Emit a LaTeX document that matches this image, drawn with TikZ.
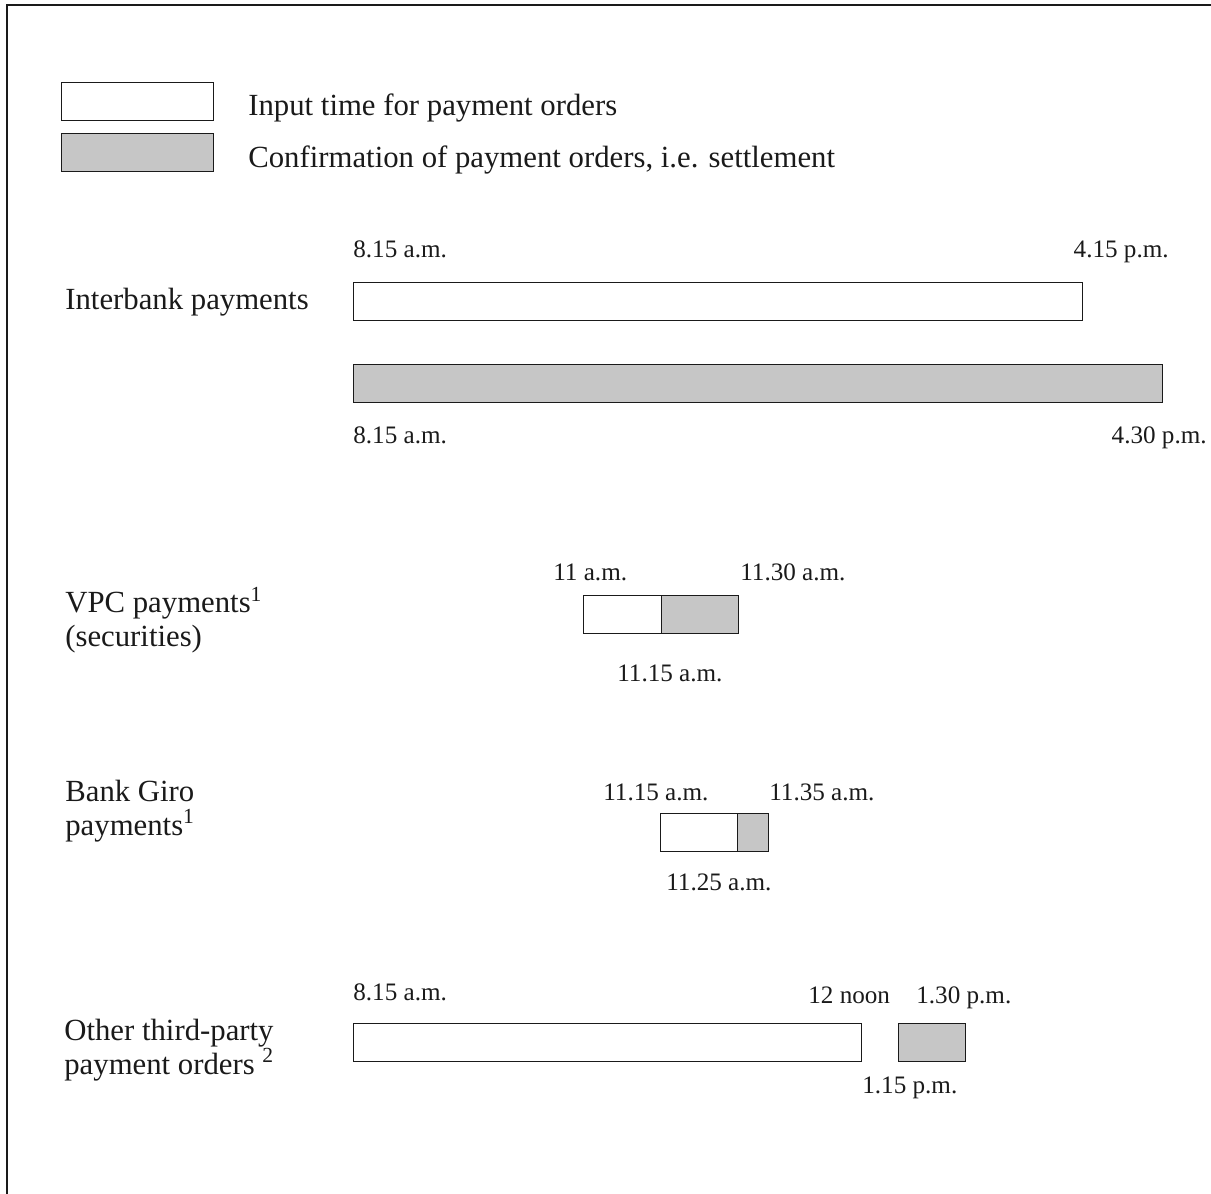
\documentclass[tikz,border=0pt]{standalone}
\usepackage{fontspec}
\setmainfont{Liberation Serif}
\usepackage{xcolor}
\usepackage{tikz}
\usetikzlibrary{positioning}
\definecolor{ink}{HTML}{1A1A1A}
\definecolor{stipple}{HTML}{C6C6C6}
\tikzset{
  inbar/.style={draw=ink,fill=white,line width=.6pt,inner sep=0pt,minimum height=.76cm,anchor=north west},
  setbar/.style={inbar,fill=stipple},
  rowlbl/.style={font=\fontsize{17.5}{19.2}\selectfont,align=left,anchor=base west,inner sep=0pt,text=ink},
  timelbl/.style={font=\fontsize{14.3}{16}\selectfont,anchor=base west,inner sep=0pt,text=ink},
}

\begin{document}
\begin{tikzpicture}[x=1cm,y=1cm]
  \useasboundingbox (0,0) rectangle (24.22,-23.88);
  \draw[ink,line width=.6pt] (0.14,-23.88) |- (24.22,-0.10);
  % legend
  \node[inbar,minimum width=3.04cm] (keyIn) at (1.22,-1.64) {};
  \node[setbar,minimum width=3.04cm] (keySet) at (1.22,-2.66) {};
  \node[rowlbl] (keyInTxt) at (4.96,-2.32) {Input time for payment orders};
  \node[rowlbl] (keySetTxt) at (4.96,-3.36) {Confirmation of payment orders, i.e. settlement};
  % interbank payments
  \node[rowlbl] (interLbl) at (1.30,-6.20) {Interbank payments};
  \node[inbar,minimum width=14.58cm] (interIn) at (7.06,-5.64) {};
  \node[setbar,minimum width=16.18cm] (interSet) at (7.06,-7.28) {};
  \node[timelbl] (interInFrom) at (7.06,-5.16) {8.15 a.m.};
  \node[timelbl,anchor=base east] (interInTo) at (23.38,-5.16) {4.15 p.m.};
  \node[timelbl] (interSetFrom) at (7.06,-8.86) {8.15 a.m.};
  \node[timelbl,anchor=base east] (interSetTo) at (24.14,-8.86) {4.30 p.m.};
  % VPC payments (base = last line)
  \node[rowlbl] (vpcLbl) at (1.30,-12.92) {VPC payments\textsuperscript{1}\\(securities)};
  \node[inbar,minimum width=1.56cm] (vpcIn) at (11.66,-11.90) {};
  \node[setbar,minimum width=1.54cm] (vpcSet) at (13.22,-11.90) {};
  \node[timelbl] (vpcFrom) at (11.06,-11.60) {11 a.m.};
  \node[timelbl] (vpcTo) at (14.80,-11.60) {11.30 a.m.};
  \node[timelbl] (vpcMid) at (12.34,-13.62) {11.15 a.m.};
  % Bank Giro payments
  \node[rowlbl] (giroLbl) at (1.30,-16.70) {Bank Giro\\payments\textsuperscript{1}};
  \node[inbar,minimum width=1.54cm] (giroIn) at (13.20,-16.26) {};
  \node[setbar,minimum width=.62cm] (giroSet) at (14.74,-16.26) {};
  \node[timelbl] (giroFrom) at (12.06,-16.00) {11.15 a.m.};
  \node[timelbl] (giroTo) at (15.38,-16.00) {11.35 a.m.};
  \node[timelbl] (giroMid) at (13.32,-17.80) {11.25 a.m.};
  % other third-party payment orders
  \node[rowlbl] (otherLbl) at (1.28,-21.48) {Other third-party\\payment orders \textsuperscript{2}};
  \node[inbar,minimum width=10.16cm] (otherIn) at (7.06,-20.46) {};
  \node[setbar,minimum width=1.34cm] (otherSet) at (17.96,-20.46) {};
  \node[timelbl] (otherFrom) at (7.06,-20.00) {8.15 a.m.};
  \node[timelbl] (otherNoon) at (16.16,-20.06) {12 noon};
  \node[timelbl] (otherTo) at (18.32,-20.06) {1.30 p.m.};
  \node[timelbl] (otherMid) at (17.24,-21.86) {1.15 p.m.};
\end{tikzpicture}
\end{document}
